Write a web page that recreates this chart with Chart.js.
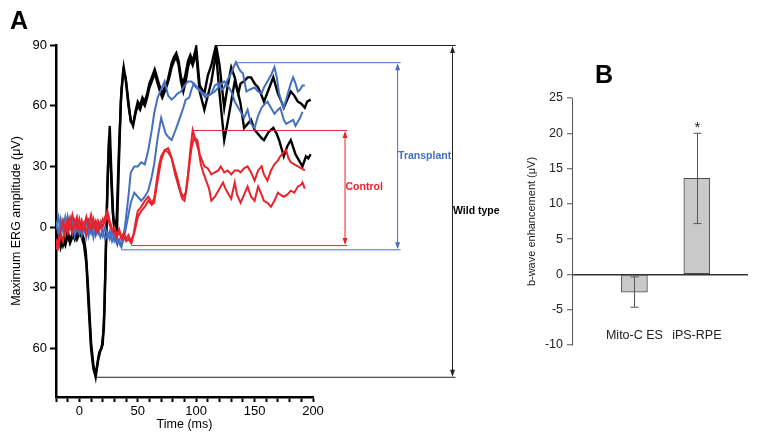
<!DOCTYPE html>
<html>
<head>
<meta charset="utf-8">
<script src="https://cdn.jsdelivr.net/npm/chart.js@4.4.1/dist/chart.umd.min.js"></script>
<style>
  body { margin: 0; background: #fff; }
  #wrap { position: relative; width: 760px; height: 444px; overflow: hidden; font-family: 'Liberation Sans', Arial, sans-serif; }
  canvas { position: absolute; top: 0; }
  #ergChart { left: 0; }
  #barChart { left: 520px; }
  .panel { position: absolute; font-weight: bold; font-size: 25px; line-height: 1; }
</style>
</head>
<body>
<div id="wrap">
  <canvas id="ergChart" width="530" height="444"></canvas>
  <canvas id="barChart" width="240" height="444"></canvas>
  <div class="panel" style="left:10px; top:8px">A</div>
  <div class="panel" style="left:595px; top:62px">B</div>
</div>
<script>
// ---- panel A: ERG traces, [time ms, amplitude uV] ----
const wildType1 = [[-20,-3],[-18,-8],[-16,-4],[-14,-9],[-12,-5],[-10,-2],[-8,-7],[-6,-3],[-4,-6],[-2,-2],[0,-4],[2,-3],[4,-6],[5.5,-12],[7.5,-30],[10,-57],[12,-68],[14,-74],[16,-66],[18,-61],[20,-58],[21.5,-40],[23,-5],[24.5,30],[26,50],[27.5,25],[29,5],[30.5,-3],[32,5],[34,40],[36,68],[38,79],[40,72],[42,62],[44,52],[46,51],[48,57],[50,62],[52,60],[54,64],[56,62],[58,66],[60,71],[62,74],[64.5,78],[66,75],[68.5,70],[71,66],[73,69],[75,71],[77,76],[79,81],[81,84],[83,86],[85,82],[87,74],[89,71],[91,76],[93,82],[95,85],[97,82],[100,89],[103,70],[107,66],[110,75],[113,80],[117,90],[120,80],[124,59],[127,70],[130,79],[133,74],[136,66],[138,71],[141,72],[144,74],[147,74],[150,71],[153,69],[156,65],[158,62],[162,68],[166,74],[170,66],[173,62],[175,59],[178,63],[181,67],[184,65],[187,62],[190,61],[193,59],[195,62],[198,63]];
const wildType2 = [[-20,-6],[-18,-3],[-16,-10],[-14,-6],[-12,-9],[-10,-4],[-8,-8],[-6,-5],[-4,-2],[-2,-6],[0,-3],[2,-5],[4,-9],[6,-18],[8,-40],[10,-60],[12,-70],[13.5,-73],[15,-69],[17,-62],[19,-60],[21,-50],[22.5,-15],[24,20],[25.5,45],[27,28],[28.5,8],[30,-1],[32,-6],[33.5,25],[35.5,62],[37.5,77],[39.5,74],[42,60],[44,53],[46,50],[48,56],[50,60],[52,58],[54,62],[56,60],[58,64],[60,69],[62,72],[64.5,76],[66,73],[68.5,68],[71,64],[73,67],[75,70],[77,74],[79,79],[81,82],[83,84],[85,80],[87,72],[89,67],[91,72],[93,79],[95,83],[97,80],[100,86],[103,67],[107,58],[110,65],[113,72],[117,86],[120,66],[124,43],[127,52],[130,62],[133,72],[136,66],[138,61],[141,49],[144,51],[147,53],[150,48],[153,46],[156,44],[158,43],[162,47],[166,49],[169,46],[171,43],[175,35],[178,40],[181,43],[185,36],[188,33],[191,30],[194,35],[196,34],[198,36]];
const transplant1 = [[-20,2],[-18,-3],[-16,4],[-14,-2],[-12,5],[-10,0],[-8,4],[-6,-3],[-4,3],[-2,-2],[0,2],[2,-4],[4,1],[6,-5],[8,0],[10,-3],[12,2],[14,-4],[16,0],[18,-5],[20,-2],[22,-6],[24,-3],[26,-6],[28,-2],[30,-7],[32,-5],[34,-8],[36,-10],[38,-4],[40,5],[42,15],[44,27],[47,30],[50,30],[53,32],[56,31],[59,38],[62,48],[64,56],[67,64],[70,68],[73,72],[76,65],[79,63],[81,64],[84,66],[87,67],[90,70],[93,72],[96,72],[100,69],[104,67],[108,64],[113,66],[116,70],[119,71],[122,68],[124,69],[127,73],[130,76],[132,79],[134,81.5],[136,79],[138,77],[140,76],[143,67],[146,68],[150,69],[153,67],[156,66],[158,69],[161,72],[164,75],[167,79],[169,74],[171,66],[173,62],[175,59],[178,65],[181,71],[183,74],[185,71],[187,67],[189,68],[191,70],[193,70]];
const transplant2 = [[-20,0],[-18,5],[-16,-2],[-14,3],[-12,-3],[-10,5],[-8,-1],[-6,4],[-4,-4],[-2,2],[0,-3],[2,3],[4,-2],[6,4],[8,-4],[10,2],[12,-5],[14,1],[16,-3],[18,2],[20,-4],[22,0],[24,-5],[26,-2],[28,-7],[30,-4],[32,-8],[34,-6],[36,-9],[38,-6],[40,0],[42,6],[44,12],[47,17],[50,15],[53,13],[56,15],[59,18],[62,25],[64,31],[67,44],[70,54],[72,50],[74,46],[77,44],[79,43],[81,46],[83,49],[86,54],[89,59],[91,63],[94,64],[96,68],[98,71],[101,69],[104,67],[107,66],[110,65],[113,66],[116,67],[119,69],[122,71],[124,72],[127,70],[130,67],[133,62],[136,59],[138,57],[141,54],[144,58],[147,51],[150,49],[153,55],[156,59],[159,61],[161,62],[164,59],[167,56],[170,58],[172,59],[175,53],[177,51],[180,52],[183,53],[185,50],[187,52],[189,54],[191,57]];
const control1 = [[-20,-11],[-18,-6],[-16,-2],[-14,3],[-12,-1],[-10,4],[-8,0],[-6,6],[-4,1],[-2,5],[0,-1],[2,3],[4,0],[6,5],[8,1],[10,6],[12,0],[14,3],[16,-2],[18,2],[20,0],[22,5],[24,8],[26,3],[28,-1],[30,-3],[32,-5],[34,-2],[36,-6],[38,-4],[40,-7],[42,-6],[44.5,-8],[46,-5],[48,2],[50,8],[53,10],[56,13],[59,15],[62,12],[64,14],[66,22],[68,30],[70,35],[73,38],[76,39],[78,36],[81,30],[84,24],[87,17],[89,15],[91,17],[93,26],[95,38],[97,48],[99,44],[101,43],[103,36],[105,33],[107,30],[110,29],[113,26],[116,27],[119,28],[121,30],[124,27],[127,28],[130,26],[133,28],[136,28],[138,27],[141,29],[144,30],[147,27],[150,23],[153,28],[156,30],[158,26],[161,23],[164,28],[167,31],[170,33],[172,35],[175,37],[177,38],[179,34],[181,32],[184,31],[187,30],[190,29],[193,28]];
const control2 = [[-20,-6],[-18,-10],[-16,-4],[-14,-7],[-12,0],[-10,-3],[-8,4],[-6,-2],[-4,3],[-2,-1],[0,4],[2,-2],[4,2],[6,-3],[8,3],[10,-1],[12,4],[14,-2],[16,3],[18,0],[20,4],[22,2],[24,6],[26,1],[28,-2],[30,0],[32,-4],[34,-1],[36,-5],[38,-3],[40,-6],[42,-4],[44,-7],[47,-3],[50,5],[53,8],[56,10],[59,13],[62,11],[64,12],[67,23],[70,33],[73,38],[76,37],[79,34],[82,26],[85,20],[88,14],[90,13],[92,20],[94,30],[96,39],[98,44],[100,42],[102,38],[104,31],[106,27],[108.5,23],[111,19],[113,13],[116,15],[119,18],[121,20],[123,22],[125,19],[127,17],[130,14],[133,22],[135,16],[138,12],[141,16],[144,20],[147,15],[150,13],[153,20],[156,16],[158,13],[161,12],[164,10],[167,13],[170,17],[172,16],[175,15],[178,16],[181,18],[184,17],[187,20],[190,21],[191,22],[193,19]];
const yTicksA = [-60, -30, 0, 30, 60, 90];

// amplitude brackets: peak value/time, trough value/time, arrow time
const bracketNames = ['Control', 'Transplant', 'Wild type'];
const bracketHigh  = [48, 81.5, 90];
const bracketHighT = [97, 135, 117];
const bracketLow   = [-8.9, -11, -74];
const bracketLowT  = [44.5, 36, 14.5];
const bracketArrowT = [227, 272, 319];
const bracketEndT  = [229.5, 275, 322];

// ---- panel B: b-wave enhancement ----
const groupsB = ['Mito-C ES', 'iPS-RPE'];
const meanB = [-2.5, 13.6];
const errB = [2.15, 6.4];
const signifB = ['', '*'];

const FONT = "'Liberation Sans', Arial, sans-serif";
Chart.defaults.font.family = FONT;
Chart.defaults.color = '#000';

const BLACK = '#000000';
const BLUE = '#4470c0';
const RED = '#e8232c';

const toPts = arr => arr.map(([x, y]) => ({x, y}));
const trace = (data, color, order) => ({
    data: toPts(data),
    borderColor: color,
    borderWidth: color === BLACK ? 2.4 : 2,
    pointRadius: 0,
    tension: 0,
    fill: false,
    order: order
});

const bracketColors = [RED, BLUE, '#222'];

const bracketPlugin = {
    id: 'brackets',
    afterDatasetsDraw(chart) {
        const {ctx, scales: {x, y}} = chart;
        ctx.save();
        bracketNames.forEach((name, i) => {
            const xa = x.getPixelForValue(bracketArrowT[i]);
            const xe = x.getPixelForValue(bracketEndT[i]);
            const yt = y.getPixelForValue(bracketHigh[i]);
            const yb = y.getPixelForValue(bracketLow[i]);
            ctx.strokeStyle = bracketColors[i];
            ctx.fillStyle = bracketColors[i];
            ctx.lineWidth = 1;
            ctx.beginPath();
            ctx.moveTo(x.getPixelForValue(bracketHighT[i]), yt + 0.5);
            ctx.lineTo(xe, yt + 0.5);
            ctx.moveTo(x.getPixelForValue(bracketLowT[i]), yb + 0.5);
            ctx.lineTo(xe, yb + 0.5);
            ctx.moveTo(xa + 0.5, yt + 4);
            ctx.lineTo(xa + 0.5, yb - 4);
            ctx.stroke();
            // arrow heads
            ctx.beginPath();
            ctx.moveTo(xa + 0.5, yt + 1);
            ctx.lineTo(xa - 2, yt + 8);
            ctx.lineTo(xa + 3, yt + 8);
            ctx.closePath();
            ctx.moveTo(xa + 0.5, yb);
            ctx.lineTo(xa - 2, yb - 7);
            ctx.lineTo(xa + 3, yb - 7);
            ctx.closePath();
            ctx.fill();
            ctx.font = 'bold 10.5px ' + FONT;
            ctx.textBaseline = 'middle';
            ctx.textAlign = 'left';
            ctx.fillStyle = i === 2 ? '#000' : bracketColors[i];
            ctx.fillText(name, xa + 1, (yt + yb) / 2);
        });
        ctx.restore();
    }
};

new Chart(document.getElementById('ergChart').getContext('2d'), {
    type: 'line',
    data: {
        datasets: [
            trace(control1, RED, 0),
            trace(control2, RED, 0),
            trace(transplant1, BLUE, 1),
            trace(transplant2, BLUE, 1),
            trace(wildType1, BLACK, 2),
            trace(wildType2, BLACK, 2),
        ]
    },
    options: {
        responsive: false,
        animation: false,
        layout: { padding: { left: 0, top: 45, right: 217, bottom: 0 } },
        plugins: { legend: { display: false }, tooltip: { enabled: false } },
        scales: {
            x: {
                type: 'linear',
                min: -20,
                max: 200,
                afterFit: s => { s.height = 47; },
                ticks: {
                    stepSize: 10,
                    autoSkip: false,
                    maxRotation: 0,
                    padding: 2,
                    font: { size: 13 },
                    color: '#000',
                    callback: v => (v % 50 === 0 ? v : '')
                },
                grid: { drawOnChartArea: false, tickLength: 5, tickWidth: 2, tickColor: '#000' },
                border: { color: '#000', width: 2.5 },
                title: { display: true, text: 'Time (ms)', font: { size: 12.5 }, padding: { top: 0, bottom: 12 } }
            },
            y: {
                min: -84,
                max: 90,
                afterFit: s => { s.width = 56; },
                afterBuildTicks: s => { s.ticks = yTicksA.map(v => ({value: v})); },
                ticks: {
                    padding: 3,
                    font: { size: 13 },
                    color: '#000',
                    callback: v => Math.abs(v)
                },
                grid: { drawOnChartArea: false, tickLength: 6, tickWidth: 2, tickColor: '#000' },
                border: { color: '#000', width: 2.5 },
                title: { display: true, text: 'Maximum ERG amplitude (μV)', font: { size: 12.5 }, padding: { top: 9, bottom: 0 } }
            }
        }
    },
    plugins: [bracketPlugin]
});

const errorBarPlugin = {
    id: 'errorBars',
    afterDatasetsDraw(chart) {
        const {ctx, scales: {x, y}} = chart;
        ctx.save();
        ctx.strokeStyle = '#555';
        ctx.lineWidth = 1;
        meanB.forEach((v, i) => {
            const px = Math.round(x.getPixelForValue(i + 1)) + 0.5;
            const hi = y.getPixelForValue(v + errB[i]);
            const lo = y.getPixelForValue(v - errB[i]);
            ctx.beginPath();
            ctx.moveTo(px, hi); ctx.lineTo(px, lo);
            ctx.moveTo(px - 4, hi); ctx.lineTo(px + 4, hi);
            ctx.moveTo(px - 4, lo); ctx.lineTo(px + 4, lo);
            ctx.stroke();
            if (signifB[i]) {
                ctx.fillStyle = '#222';
                ctx.font = '15px ' + FONT;
                ctx.textAlign = 'center';
                ctx.textBaseline = 'alphabetic';
                ctx.fillText(signifB[i], px, hi - 1);
            }
        });
        ctx.restore();
    }
};

new Chart(document.getElementById('barChart').getContext('2d'), {
    type: 'bar',
    data: {
        datasets: [{
            data: meanB.map((v, i) => ({x: i + 1, y: v})),
            backgroundColor: '#c9c9c9',
            borderColor: '#4a4a4a',
            borderWidth: 1,
            borderSkipped: false,
            barThickness: 26
        }]
    },
    options: {
        responsive: false,
        animation: false,
        layout: { padding: { left: 0, top: 98, right: 12, bottom: 99 } },
        plugins: { legend: { display: false }, tooltip: { enabled: false } },
        scales: {
            x: {
                type: 'linear',
                min: 0,
                max: 2.82,
                offset: false,
                position: { y: -7.3 },
                afterBuildTicks: s => { s.ticks = groupsB.map((g, i) => ({value: i + 1})); },
                ticks: {
                    padding: 2,
                    font: { size: 12.5 },
                    color: '#222',
                    maxRotation: 0,
                    callback: v => groupsB[v - 1]
                },
                grid: { display: false, drawTicks: false },
                border: { display: false }
            },
            y: {
                min: -10,
                max: 25,
                afterFit: s => { s.width = 52; },
                ticks: { stepSize: 5, padding: 4, font: { size: 12.5 }, color: '#222' },
                grid: {
                    color: c => (c.tick && c.tick.value === 0 ? '#333' : 'rgba(0,0,0,0)'),
                    lineWidth: 1.5,
                    tickLength: 5,
                    tickColor: '#555',
                    tickWidth: 1
                },
                border: { color: '#555', width: 1 },
                title: { display: true, text: 'b-wave enhancement (μV)', font: { size: 11 }, color: '#222', padding: { top: 5, bottom: 0 } }
            }
        }
    },
    plugins: [errorBarPlugin]
});
</script>
</body>
</html>
